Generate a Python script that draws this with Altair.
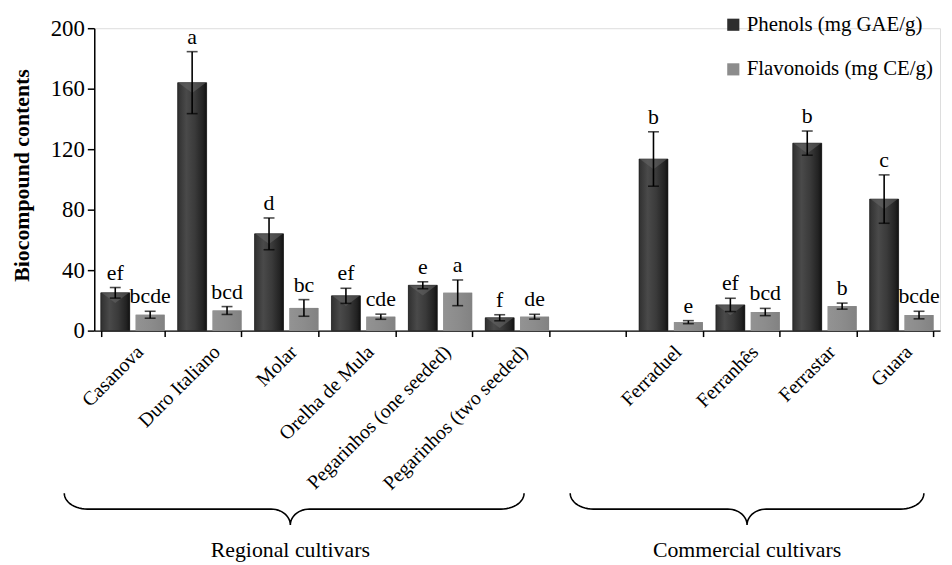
import altair as alt
import pandas as pd
import numpy as np

# ---------------- data ----------------
cultivars = ["Casanova", "Duro Italiano", "Molar", "Orelha de Mula",
             "Pegarinhos (one seeded)", "Pegarinhos (two seeded)",
             "Ferraduel", "Ferranhês", "Ferrastar", "Guara"]
gap_slot = " "
x_domain = cultivars[:6] + [gap_slot] + cultivars[6:]

series = ["Phenols (mg GAE/g)", "Flavonoids (mg CE/g)"]

phenols = [25, 164, 64, 23, 30, 8.5, 113.5, 17, 124, 87]
phenols_err = [3.5, 20.5, 10.5, 5, 2.3, 2, 18, 4.4, 8, 16]
phenols_letters = ["ef", "a", "d", "ef", "e", "f", "b", "ef", "b", "c"]

flavonoids = [10.5, 13.3, 15, 9.2, 25, 9.2, 5.6, 12.3, 16.2, 10.3]
flavonoids_err = [2.3, 2.6, 5.5, 1.7, 8.5, 1.6, 1, 2.4, 2, 2.5]
flavonoids_letters = ["bcde", "bcd", "bc", "cde", "a", "de", "e", "bcd", "b", "bcde"]

groups = ["Regional cultivars", "Commercial cultivars"]

# ---------------- layout constants (brace extents in category-slot units) ----------------
brace_start = [-0.39, 6.19]
brace_end = [5.59, 10.79]
brace_tip = [2.55, 8.49]

rows = []
for s, vals, errs, lets in [(series[0], phenols, phenols_err, phenols_letters),
                            (series[1], flavonoids, flavonoids_err, flavonoids_letters)]:
    for c, v, e, l in zip(cultivars, vals, errs, lets):
        rows.append(dict(cultivar=c, series=s, value=v, lo=v - e, hi=v + e, letter=l))
df = pd.DataFrame(rows)


def brace_points(x0, x1, xm, r=0.3, r2=0.25, n=14):
    t = np.linspace(0, np.pi / 2, n)
    xs, ys = [], []
    xs += list(x0 + r * (1 - np.cos(t))); ys += list(0.5 * np.sin(t))
    xs += list(xm - r2 + r2 * np.sin(t)); ys += list(0.5 + 0.5 * (1 - np.cos(t)))
    xs += list(xm + r2 * (1 - np.cos(t))); ys += list(1 - 0.5 * np.sin(t))
    xs += list(x1 - r + r * np.sin(t)); ys += list(0.5 * np.cos(t))
    return xs, ys


brows = []
for g, a, b, m in zip(groups, brace_start, brace_end, brace_tip):
    xs, ys = brace_points(a, b, m)
    for i, (bx, by) in enumerate(zip(xs, ys)):
        brows.append(dict(group=g, i=i, bx=bx, by=by))
bdf = pd.DataFrame(brows)
tdf = pd.DataFrame(dict(group=groups, tip=brace_tip))

FONT = "Times New Roman, Liberation Serif, serif"

x_enc = alt.X("cultivar:N", scale=alt.Scale(domain=x_domain, paddingInner=0.17, paddingOuter=0.085),
              axis=alt.Axis(title=None, labelAngle=-45, labelAlign="right", labelBaseline="top",
                            tickBand="extent", tickSize=6, labelPadding=5, labelFontSize=20,
                            labelFont=FONT, labelColor="black", domainColor="black",
                            tickColor="black", domainWidth=1.5, tickWidth=1.5, grid=False,
                            labelLimit=0, labelOverlap=False))
xo_enc = alt.XOffset("series:N", scale=alt.Scale(domain=series, paddingInner=0.171))
y_scale = alt.Scale(domain=[0, 200], nice=False)
y_enc = alt.Y("value:Q", scale=y_scale,
              axis=alt.Axis(values=[0, 40, 80, 120, 160, 200], title="Biocompound contents",
                            titleFont=FONT, titleFontSize=22, titleFontWeight="bold",
                            titleColor="black", titleX=-73, titleY=148, titleAngle=-90,
                            titleAlign="center", titleBaseline="middle",
                            labelFont=FONT, labelFontSize=23, labelColor="black",
                            labelPadding=3, tickSize=7, tickColor="black", tickWidth=1.5,
                            domainColor="black", domainWidth=1.5, grid=False))

base = alt.Chart(df)

bars = base.mark_bar().encode(
    x=x_enc, xOffset=xo_enc, y=y_enc,
    color=alt.Color("series:N", scale=alt.Scale(domain=series, range=["#2e2e2e", "#8c8c8c"]),
                    legend=alt.Legend(title=None, orient="none", legendX=634, legendY=-14,
                                      direction="vertical", symbolType="square", symbolSize=150,
                                      symbolStrokeWidth=0, labelFont=FONT, labelFontSize=21,
                                      labelColor="black", rowPadding=23, labelOffset=3,
                                      padding=0, labelLimit=0)),
)

grad = alt.LinearGradient(gradient="linear", x1=0, x2=1, y1=0, y2=0, stops=[
    alt.GradientStop(color="#303030", offset=0),
    alt.GradientStop(color="#4a4a4a", offset=0.3),
    alt.GradientStop(color="#3a3a3a", offset=0.6),
    alt.GradientStop(color="#222222", offset=0.88),
    alt.GradientStop(color="#111111", offset=1),
])
phen_overlay = base.transform_filter(alt.datum.series == series[0]).mark_bar(
    fill=grad, stroke="#1a1a1a", strokeWidth=0.6).encode(
    x=alt.X("cultivar:N"), xOffset=xo_enc, y=alt.Y("value:Q"))

chevron = base.transform_filter(alt.datum.series == series[0]).mark_point(
    shape="M-1,0L1,0L0,0.75Z", size=760, filled=True, color="#6a6a6a", opacity=0.5,
    strokeWidth=0).encode(x=alt.X("cultivar:N"), xOffset=xo_enc, y=alt.Y("value:Q"))

flav_overlay = base.transform_filter(alt.datum.series == series[1]).mark_bar(
    fill=alt.LinearGradient(gradient="linear", x1=0, x2=1, y1=0, y2=0, stops=[
        alt.GradientStop(color="#939393", offset=0),
        alt.GradientStop(color="#8c8c8c", offset=0.5),
        alt.GradientStop(color="#828282", offset=1)])).encode(
    x=alt.X("cultivar:N"), xOffset=xo_enc, y=alt.Y("value:Q"))

err_rule = base.mark_rule(color="black", strokeWidth=1.6).encode(
    x=alt.X("cultivar:N"), xOffset=xo_enc, y=alt.Y("lo:Q"), y2="hi:Q")
cap_hi = base.mark_tick(color="black", thickness=1.6, size=11).encode(
    x=alt.X("cultivar:N"), xOffset=xo_enc, y=alt.Y("hi:Q"))
cap_lo = base.mark_tick(color="black", thickness=1.6, size=11).encode(
    x=alt.X("cultivar:N"), xOffset=xo_enc, y=alt.Y("lo:Q"))
letters = base.mark_text(font=FONT, fontSize=22, baseline="alphabetic", dy=-8,
                         color="black").encode(
    x=alt.X("cultivar:N"), xOffset=xo_enc, y=alt.Y("hi:Q"), text="letter:N")

main = alt.layer(bars, phen_overlay, flav_overlay, chevron, err_rule, cap_hi, cap_lo, letters)

bx_scale = alt.Scale(domain=[0, 11], nice=False, zero=False)
brace_lines = alt.Chart(bdf).mark_line(color="black", strokeWidth=1.6).encode(
    x=alt.X("bx:Q", scale=bx_scale, axis=None),
    y=alt.Y("by:Q", scale=alt.Scale(domain=[0, 1], range=[469, 501], nice=False, zero=False),
            axis=None),
    detail="group:N", order="i:Q")
brace_text = alt.Chart(tdf).mark_text(font=FONT, fontSize=22, color="black",
                                      baseline="alphabetic").encode(
    x=alt.X("tip:Q", scale=bx_scale, axis=None), y=alt.value(533), text="group:N")
braces = alt.layer(brace_lines, brace_text)

chart = alt.layer(main, braces).resolve_scale(x="independent", y="independent").properties(
    width=853, height=305,
    padding={"left": 87, "top": 18, "right": 4, "bottom": 234},
    autosize=alt.AutoSizeParams(type="none"),
).configure_view(stroke=None).configure(font=FONT)

chart.save("out.html", embed_options={"renderer": "svg", "actions": False})
